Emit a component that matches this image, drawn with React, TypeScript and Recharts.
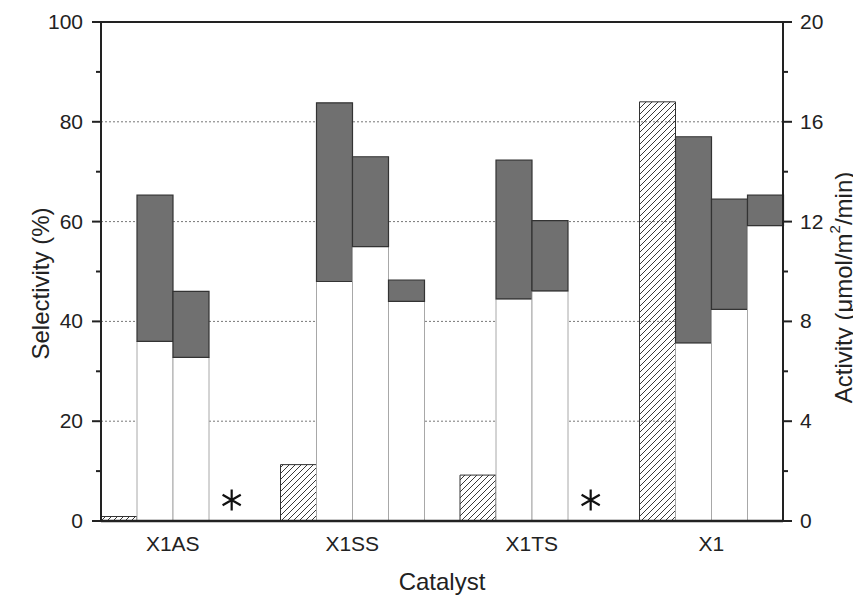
import React from "react";
import {
  Bar,
  BarChart,
  CartesianGrid,
  LabelList,
  ReferenceLine,
  XAxis,
  YAxis,
} from "recharts";

const FONT = "'Liberation Sans', Arial, sans-serif";

const catalysts = ["X1AS", "X1SS", "X1TS", "X1"];
// activity, right axis (umol/m2/min)
const activity = [0.18, 2.26, 1.84, 16.8];
// selectivity runs: lower part (white) and top of the grey part
const run1Low = [36, 48, 44.5, 35.7];
const run1High = [65.3, 83.8, 72.3, 77.0];
const run2Low = [32.8, 55, 46.1, 42.4];
const run2High = [46, 73, 60.2, 64.5];
const run3Low = [null, 44, null, 59.2];
const run3High = [null, 48.3, null, 65.3];

const leftTicks = [0, 10, 20, 30, 40, 50, 60, 70, 80, 90, 100];
const rightTicks = [0, 2, 4, 6, 8, 10, 12, 14, 16, 18, 20];
const gridValues = [20, 40, 60, 80];

const rows = catalysts.map((c, i) => ({
  catalyst: c,
  activity: activity[i],
  w1: run1Low[i],
  g1: run1High[i] - run1Low[i],
  w2: run2Low[i],
  g2: run2High[i] - run2Low[i],
  w3: run3Low[i],
  g3: run3High[i] != null && run3Low[i] != null ? run3High[i]! - run3Low[i]! : null,
  missing: run3High[i] == null,
}));

const GREY = "#707070";

function LeftTick(props: any) {
  const { x, y, payload } = props;
  const major = payload.value % 20 === 0;
  return (
    <g>
      <line x1={x} x2={x - (major ? 9 : 5)} y1={y} y2={y} stroke="#222" strokeWidth={2} />
      {major && (
        <text x={x - 18} y={y + 7} textAnchor="end" fontSize={21} fontFamily={FONT} fill="#222">
          {payload.value}
        </text>
      )}
    </g>
  );
}

function RightTick(props: any) {
  const { x, y, payload } = props;
  const major = payload.value % 4 === 0;
  return (
    <g>
      <line x1={x} x2={x + (major ? 9 : 5)} y1={y} y2={y} stroke="#222" strokeWidth={2} />
      {major && (
        <text x={x + 17} y={y + 7} textAnchor="start" fontSize={21} fontFamily={FONT} fill="#222">
          {payload.value}
        </text>
      )}
    </g>
  );
}

function CatTick(props: any) {
  const { x, y, payload } = props;
  return (
    <text x={x} y={y + 30} textAnchor="middle" fontSize={21} fontFamily={FONT} fill="#222">
      {payload.value}
    </text>
  );
}

// "*" marks the missing third run, drawn in the 4th slot of the group
function Asterisk(props: any) {
  const { x, y, width, height, index } = props;
  if (!rows[index] || !rows[index].missing) return null;
  const cx = x + width * 2.63;
  const cy = y + height - 21;
  const r = 10.5;
  const dx = r * Math.sin(Math.PI / 3);
  const dy = r * Math.cos(Math.PI / 3);
  return (
    <path
      d={`M${cx},${cy - r}L${cx},${cy + r}M${cx - dx},${cy - dy}L${cx + dx},${cy + dy}M${cx - dx},${cy + dy}L${cx + dx},${cy - dy}`}
      stroke="#111"
      strokeWidth={2.2}
    />
  );
}

export default function App() {
  return (
    <BarChart
      width={853}
      height={587}
      data={rows}
      margin={{ top: 14, right: 0, bottom: 0, left: 0 }}
      barCategoryGap={18}
      barGap={0}
    >
      <defs>
        <pattern id="hatch" patternUnits="userSpaceOnUse" width={6} height={6}>
          <path d="M0,6 L6,0 M-1,1 L1,-1 M5,7 L7,5" stroke="#222" strokeWidth={0.9} />
        </pattern>
      </defs>
      <CartesianGrid
        yAxisId="left"
        vertical={false}
        horizontalValues={gridValues}
        stroke="#777"
        strokeDasharray="2 2"
      />
      <XAxis
        dataKey="catalyst"
        padding={{ left: -18, right: -18 }}
        height={74}
        tickSize={0}
        tickMargin={0}
        tick={<CatTick />}
        axisLine={{ stroke: "#222", strokeWidth: 2.5 }}
        label={{
          content: (p: any) => {
            const vb = p.viewBox;
            return (
              <text
                x={vb.x + vb.width / 2}
                y={vb.y + 69}
                textAnchor="middle"
                fontSize={24}
                fontFamily={FONT}
                fill="#222"
              >
                Catalyst
              </text>
            );
          },
        }}
      />
      <YAxis
        yAxisId="left"
        width={93}
        domain={[0, 100]}
        ticks={leftTicks}
        interval={0}
        tickSize={0}
        tickMargin={0}
        tick={<LeftTick />}
        axisLine={{ stroke: "#222", strokeWidth: 2 }}
        label={{
          content: (p: any) => {
            const vb = p.viewBox;
            const cx = vb.x + 32;
            const cy = vb.y + vb.height / 2 + 12;
            return (
              <text
                x={cx}
                y={cy}
                transform={`rotate(-90 ${cx} ${cy})`}
                textAnchor="middle"
                dominantBaseline="central"
                fontSize={24}
                fontFamily={FONT}
                fill="#222"
              >
                Selectivity (%)
              </text>
            );
          },
        }}
      />
      <YAxis
        yAxisId="right"
        orientation="right"
        width={78}
        domain={[0, 20]}
        ticks={rightTicks}
        interval={0}
        tickSize={0}
        tickMargin={0}
        tick={<RightTick />}
        axisLine={{ stroke: "#222", strokeWidth: 2 }}
        label={{
          content: (p: any) => {
            const vb = p.viewBox;
            const cx = vb.x + 60;
            const cy = vb.y + vb.height / 2 + 16;
            return (
              <text
                x={cx}
                y={cy}
                transform={`rotate(-90 ${cx} ${cy})`}
                textAnchor="middle"
                dominantBaseline="central"
                fontSize={24}
                fontFamily={FONT}
                fill="#222"
              >
                Activity (μmol/m
                <tspan baselineShift="super" fontSize={15}>
                  2
                </tspan>
                /min)
              </text>
            );
          },
        }}
      />
      <ReferenceLine yAxisId="left" y={100} stroke="#222" strokeWidth={2} />
      <Bar
        yAxisId="right"
        dataKey="activity"
        stackId="act"
        fill="url(#hatch)"
        stroke="#333"
        strokeWidth={1}
        isAnimationActive={false}
      />
      <Bar yAxisId="left" dataKey="w1" stackId="r1" fill="#fff" stroke="#a8a8a8" strokeWidth={1} isAnimationActive={false}>
        <LabelList dataKey="w1" content={<Asterisk />} />
      </Bar>
      <Bar yAxisId="left" dataKey="g1" stackId="r1" fill={GREY} stroke="#333" strokeWidth={1.2} isAnimationActive={false} />
      <Bar yAxisId="left" dataKey="w2" stackId="r2" fill="#fff" stroke="#a8a8a8" strokeWidth={1} isAnimationActive={false} />
      <Bar yAxisId="left" dataKey="g2" stackId="r2" fill={GREY} stroke="#333" strokeWidth={1.2} isAnimationActive={false} />
      <Bar yAxisId="left" dataKey="w3" stackId="r3" fill="#fff" stroke="#a8a8a8" strokeWidth={1} isAnimationActive={false} />
      <Bar yAxisId="left" dataKey="g3" stackId="r3" fill={GREY} stroke="#333" strokeWidth={1.2} isAnimationActive={false} />
    </BarChart>
  );
}
